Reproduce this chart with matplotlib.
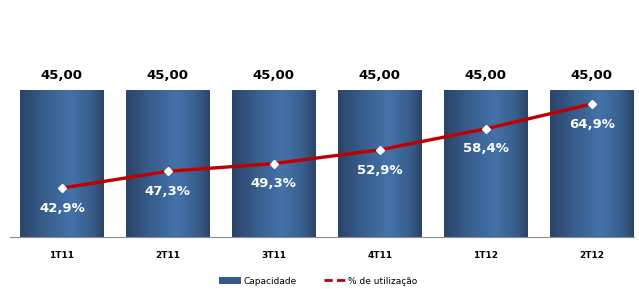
import numpy as np
import matplotlib.pyplot as plt
from matplotlib.colors import LinearSegmentedColormap
from matplotlib.lines import Line2D
from matplotlib.patches import Patch

periods = ["1T11", "2T11", "3T11", "4T11", "1T12", "2T12"]
capacity = [45.0, 45.0, 45.0, 45.0, 45.0, 45.0]
utilization = [42.9, 47.3, 49.3, 52.9, 58.4, 64.9]

plt.rcParams["font.family"] = ["DejaVu Sans"]

fig = plt.figure(figsize=(6.39, 2.89), dpi=100)
ax = fig.add_axes([10 / 639, 52 / 289, 624 / 639, 227 / 289])
ax2 = ax.twinx()

x = np.arange(len(periods))
bars = ax.bar(x, capacity, width=0.79, color="none", edgecolor="none", zorder=2)

# horizontal gradient inside each bar
bar_cmap = LinearSegmentedColormap.from_list(
    "bar_grad",
    [(0.0, "#2a4468"), (0.3, "#385e8d"), (0.6, "#4472a9"), (0.85, "#385e8d"), (1.0, "#2a4468")],
)
grad = np.linspace(0, 1, 256).reshape(1, -1)
for b in bars:
    im = ax.imshow(
        grad,
        cmap=bar_cmap,
        aspect="auto",
        extent=[b.get_x(), b.get_x() + b.get_width(), 0, b.get_height()],
        zorder=2,
    )
    im.set_clip_path(b)

for xi, v in zip(x, capacity):
    ax.text(xi, v + 2.5, f"{v:.2f}".replace(".", ","), ha="center", va="bottom",
            fontsize=9.5, fontweight="bold", color="black")

ax.set_xlim(-0.49, 5.4)
ax.set_ylim(0, 69.5)
ax.set_xticks(x)
ax.set_xticklabels(periods, fontsize=6.5, fontweight="bold")
ax.tick_params(axis="x", length=0, pad=10)
ax.set_yticks([])
for s in ["top", "left", "right"]:
    ax.spines[s].set_visible(False)
ax.spines["bottom"].set_color("#8c8c8c")

ax2.plot(x, utilization, color="#c00000", linewidth=2.4, marker="D", markersize=4,
         markerfacecolor="white", markeredgecolor="white", zorder=5)
for xi, v in zip(x, utilization):
    ax2.annotate(f"{v:.1f}%".replace(".", ","), (xi, v), xytext=(0, -14.5),
                 textcoords="offset points", ha="center", va="center",
                 fontsize=9.5, fontweight="bold", color="white")
ax2.set_ylim(30.1, 89.5)
ax2.set_yticks([])
for s in ["top", "left", "right", "bottom"]:
    ax2.spines[s].set_visible(False)

handles = [
    Patch(facecolor="#36598a", edgecolor="none"),
    Line2D([0], [0], color="#c00000", linewidth=2, linestyle=(0, (3, 1.5))),
]
fig.legend(handles, ["Capacidade", "% de utilização"], loc="center",
           bbox_to_anchor=(318 / 639, 8 / 289), ncol=2, frameon=False,
           fontsize=6.5, handlelength=2.5, handletextpad=0.2, columnspacing=3)

plt.savefig("out.png", dpi=100)
plt.close()
